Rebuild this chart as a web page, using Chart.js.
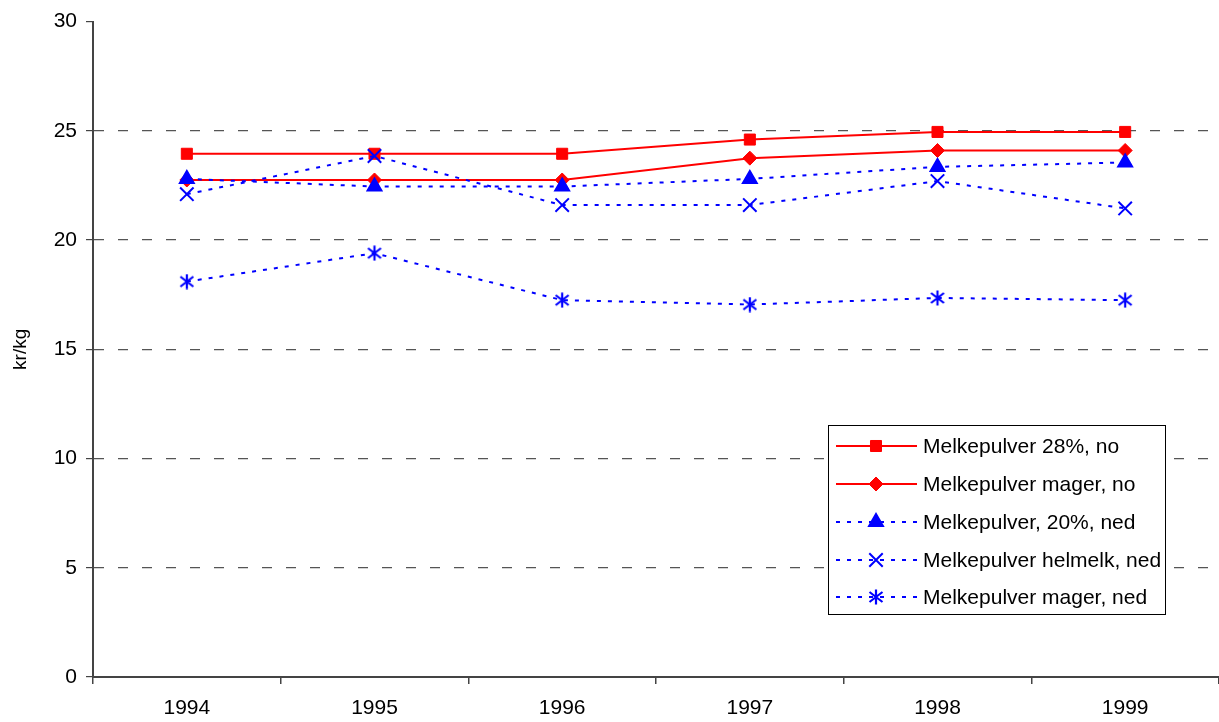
<!DOCTYPE html>
<html>
<head>
<meta charset="utf-8">
<script src="https://cdn.jsdelivr.net/npm/chart.js@4/dist/chart.umd.min.js"></script>
<style>
  html, body { margin: 0; padding: 0; background: #fff; }
  #wrap { width: 1219px; height: 722px; }
</style>
</head>
<body>
<div id="wrap"><canvas id="myChart"></canvas></div>
<script>
const years = ['1994', '1995', '1996', '1997', '1998', '1999'];
const seriesNames = ['Melkepulver 28%, no', 'Melkepulver mager, no', 'Melkepulver, 20%, ned', 'Melkepulver helmelk, ned', 'Melkepulver mager, ned'];
const melk28No = [23.95, 23.95, 23.95, 24.6, 24.95, 24.95];
const magerNo = [22.75, 22.75, 22.75, 23.75, 24.1, 24.1];
const melk20Ned = [22.8, 22.45, 22.45, 22.8, 23.35, 23.55];
const helmelkNed = [22.1, 23.85, 21.6, 21.6, 22.7, 21.45];
const magerNed = [18.1, 19.4, 17.25, 17.05, 17.35, 17.25];
const yTicks = [0, 5, 10, 15, 20, 25, 30];

const FONT = "'Liberation Sans', Arial, sans-serif";
const RED = '#ff0000';
const BLUE = '#0000ff';

// six-armed asterisk marker (Chart.js 'star' has eight arms)
function asterisk() {
  const c = document.createElement('canvas');
  c.width = 16; c.height = 16;
  const g = c.getContext('2d');
  g.strokeStyle = BLUE;
  g.lineWidth = 2.2;
  g.beginPath();
  g.moveTo(8, 0.5); g.lineTo(8, 15.5);
  g.moveTo(1.5, 3); g.lineTo(14.5, 13);
  g.moveTo(14.5, 3); g.lineTo(1.5, 13);
  g.stroke();
  return c;
}

function solidRed(label, values, style, radius) {
  return {
    label: label, data: values,
    borderColor: RED, backgroundColor: RED,
    borderWidth: 2, pointStyle: style, pointRadius: radius,
    pointBorderWidth: 1, order: 2
  };
}
function dottedBlue(label, values, style, radius) {
  return {
    label: label, data: values,
    borderColor: BLUE, backgroundColor: BLUE,
    borderWidth: 2, borderDash: [4, 7], pointStyle: style, pointRadius: radius,
    pointBorderWidth: 2, order: 1
  };
}

// legend box drawn inside the plot, like the original
const boxLegend = {
  id: 'boxLegend',
  afterDraw(chart) {
    const ctx = chart.ctx;
    const x0 = 828, y0 = 425, w = 337, h = 189;
    ctx.save();
    ctx.fillStyle = '#fff';
    ctx.fillRect(x0, y0, w, h);
    ctx.strokeStyle = '#000';
    ctx.lineWidth = 1;
    ctx.strokeRect(x0 + 0.5, y0 + 0.5, w, h);
    const rows = [446, 484, 522, 560, 597];
    chart.data.datasets.forEach((ds, i) => {
      const y = rows[i];
      ctx.save();
      ctx.strokeStyle = ds.borderColor;
      ctx.lineWidth = ds.borderWidth;
      ctx.setLineDash(ds.borderDash || []);
      ctx.beginPath();
      ctx.moveTo(836, y);
      ctx.lineTo(917, y);
      ctx.stroke();
      ctx.restore();
      ctx.save();
      ctx.fillStyle = ds.backgroundColor;
      ctx.strokeStyle = ds.borderColor;
      ctx.lineWidth = ds.pointBorderWidth;
      Chart.helpers.drawPoint(ctx, { pointStyle: ds.pointStyle, radius: ds.pointRadius, rotation: 0, borderWidth: ds.pointBorderWidth }, 876, y);
      ctx.restore();
      ctx.fillStyle = '#000';
      ctx.font = '21px ' + FONT;
      ctx.textBaseline = 'middle';
      ctx.textAlign = 'left';
      ctx.fillText(ds.label, 923, y + 1);
    });
    ctx.restore();
  }
};

new Chart(document.getElementById('myChart'), {
  type: 'line',
  data: {
    labels: years,
    datasets: [
      solidRed(seriesNames[0], melk28No, 'rect', 7.8),
      solidRed(seriesNames[1], magerNo, 'rectRot', 7),
      dottedBlue(seriesNames[2], melk20Ned, 'triangle', 8),
      dottedBlue(seriesNames[3], helmelkNed, 'crossRot', 9.5),
      dottedBlue(seriesNames[4], magerNed, asterisk(), 8)
    ]
  },
  options: {
    responsive: true,
    maintainAspectRatio: false,
    animation: false,
    layout: { autoPadding: false, padding: { top: 20, right: 0, left: 0, bottom: 0 } },
    plugins: {
      legend: { display: false },
      tooltip: { enabled: false }
    },
    scales: {
      x: {
        offset: true,
        grid: {
          offset: true, drawOnChartArea: false, drawTicks: true,
          tickLength: 7, tickColor: '#444', lineWidth: 1.5
        },
        border: { display: true, color: '#444', width: 2 },
        ticks: { color: '#000', font: { family: FONT, size: 21 }, padding: 12, maxRotation: 0 },
        afterFit(scale) { scale.height = 45; }
      },
      y: {
        min: 0, max: 30,
        afterBuildTicks(scale) { scale.ticks = yTicks.map(v => ({ value: v })); },
        grid: {
          color: c => (c.tick && (c.tick.value === 30 || c.tick.value === 0)) ? 'rgba(0,0,0,0)' : '#555',
          lineWidth: 1.2,
          tickLength: 7, tickColor: '#444', tickBorderDash: []
        },
        border: { display: true, color: '#444', width: 2, dash: [10, 14] },
        ticks: { color: '#000', font: { family: FONT, size: 21 }, padding: 9 },
        title: { display: true, text: 'kr/kg', color: '#000', font: { family: FONT, size: 19 }, padding: { top: 9, bottom: 0 } },
        afterFit(scale) { scale.width = 93; }
      }
    }
  },
  plugins: [boxLegend]
});
</script>
</body>
</html>
